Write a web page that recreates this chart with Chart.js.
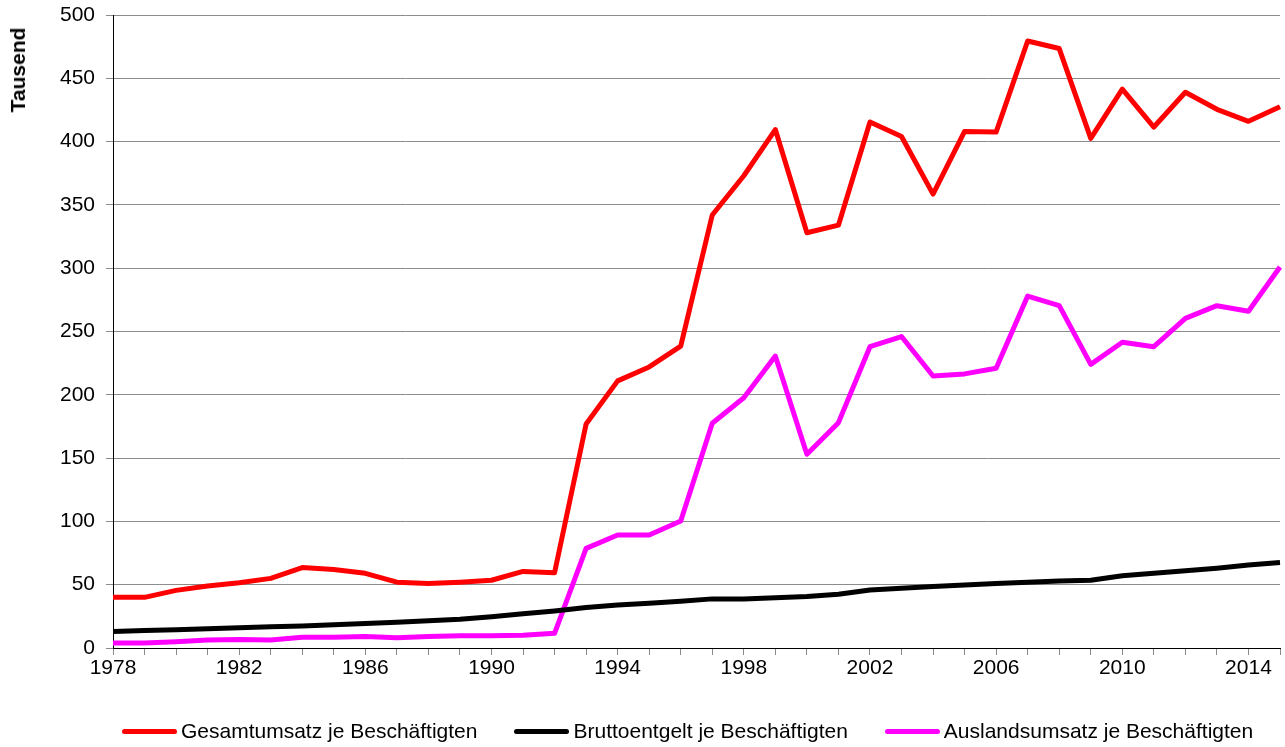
<!DOCTYPE html>
<html lang="de">
<head>
<meta charset="utf-8">
<title>Umsatz und Entgelt je Beschäftigten</title>
<script src="https://cdn.jsdelivr.net/npm/chart.js@4.4.1/dist/chart.umd.min.js"></script>
<style>
  html, body { margin: 0; padding: 0; background: #fff; }
  .wrap {
    position: relative;
    width: 1285px;
    height: 747px;
    font-family: "Liberation Sans", Arial, sans-serif;
    color: #000;
  }
  .wrap canvas { position: absolute; left: 0; top: 0; }
  .y-title {
    position: absolute;
    left: 18px;
    top: 70px;
    transform: translate(-50%, -50%) rotate(-90deg);
    font-weight: bold;
    font-size: 21px;
    white-space: nowrap;
  }
  .legend {
    position: absolute;
    left: 122px;
    top: 731px;
    transform: translateY(-50%);
    display: flex;
    align-items: center;
    font-size: 21px;
    white-space: nowrap;
  }
  .legend .item { display: flex; align-items: center; margin-right: 37px; }
  .legend .item:last-child { margin-right: 0; }
  .legend .swatch {
    display: inline-block;
    width: 55px;
    height: 5px;
    border-radius: 3px;
    margin-right: 4px;
  }
</style>
</head>
<body>
<div class="wrap">
  <canvas id="chart" width="1285" height="747"></canvas>
  <div class="y-title">Tausend</div>
  <div class="legend" id="legend"></div>
</div>
<script>
  var years = ['1978', '1979', '1980', '1981', '1982', '1983', '1984', '1985', '1986', '1987',
    '1988', '1989', '1990', '1991', '1992', '1993', '1994', '1995', '1996', '1997',
    '1998', '1999', '2000', '2001', '2002', '2003', '2004', '2005', '2006', '2007',
    '2008', '2009', '2010', '2011', '2012', '2013', '2014', '2015'];

  var gesamtumsatz = [40, 40, 45.5, 49, 51.5, 55, 63.5, 62, 59, 52,
    51, 52, 53.5, 60.5, 59.5, 177, 211, 222, 238.5, 342,
    373, 409.5, 328, 334, 415.5, 404, 358.5, 408, 407.5, 479.5,
    473.5, 402.5, 441.5, 411.5, 439, 425.5, 416, 427.5];

  var bruttoentgelt = [13, 13.8, 14.5, 15.2, 16, 16.7, 17.4, 18.3, 19.3, 20.4,
    21.5, 22.8, 24.7, 27, 29.3, 32, 34, 35.3, 37, 38.8,
    38.8, 39.7, 40.6, 42.4, 45.8, 47.2, 48.6, 49.8, 51, 52,
    53, 53.5, 57, 59, 61, 63, 65.5, 67.5];

  var auslandsumsatz = [4, 4, 5, 6.3, 6.8, 6.3, 8.4, 8.4, 9, 8,
    9, 9.7, 9.7, 10, 11.6, 78.7, 89.3, 89.3, 100.3, 177.5,
    197.7, 230.6, 153, 178, 238, 246, 214.8, 216.5, 221, 278,
    270.4, 224, 241.5, 238, 260.4, 270.4, 266, 301];

  var xTickLabels = ['1978', '1982', '1986', '1990', '1994', '1998', '2002', '2006', '2010', '2014'];

  var seriesNames = ['Gesamtumsatz je Beschäftigten', 'Bruttoentgelt je Beschäftigten', 'Auslandsumsatz je Beschäftigten'];
  var seriesColors = ['#ff0000', '#000000', '#ff00ff'];

  var tickFont = { family: '"Liberation Sans", Arial, sans-serif', size: 21 };
  var gridGray = '#8c8c8c';

  function lineDataset(index, values) {
    return {
      label: seriesNames[index],
      data: values,
      borderColor: seriesColors[index],
      backgroundColor: seriesColors[index],
      borderWidth: 5,
      borderJoinStyle: 'round',
      pointRadius: 0,
      pointHoverRadius: 0,
      tension: 0,
      fill: false
    };
  }

  new Chart(document.getElementById('chart'), {
    type: 'line',
    data: {
      labels: years,
      datasets: [
        lineDataset(0, gesamtumsatz),
        lineDataset(1, bruttoentgelt),
        lineDataset(2, auslandsumsatz)
      ]
    },
    options: {
      responsive: false,
      animation: false,
      layout: {
        autoPadding: false,
        padding: { top: 15, right: 5, bottom: 0, left: 0 }
      },
      plugins: {
        legend: { display: false },
        tooltip: { enabled: false }
      },
      scales: {
        x: {
          offset: false,
          grid: { drawOnChartArea: false, tickLength: 7, color: gridGray },
          border: { color: '#000', width: 1 },
          ticks: {
            autoSkip: false,
            maxRotation: 0,
            padding: 1,
            color: '#000',
            font: tickFont,
            callback: function (value) {
              var label = this.getLabelForValue(value);
              return xTickLabels.indexOf(label) >= 0 ? label : '';
            }
          },
          afterFit: function (scale) { scale.height = 99; }
        },
        y: {
          min: 0,
          max: 500,
          grid: { color: gridGray, tickLength: 7 },
          border: { color: '#000', width: 1 },
          ticks: { stepSize: 50, padding: 11, color: '#000', font: tickFont },
          afterFit: function (scale) {
            // fixed axis width; the top label may hang into the padding
            scale.width = 113;
            scale.paddingTop = 0;
            scale.paddingBottom = 0;
          }
        }
      }
    }
  });

  // legend below the plot
  var legend = document.getElementById('legend');
  seriesNames.forEach(function (name, i) {
    var item = document.createElement('span');
    item.className = 'item';
    var swatch = document.createElement('span');
    swatch.className = 'swatch';
    swatch.style.background = seriesColors[i];
    item.appendChild(swatch);
    item.appendChild(document.createTextNode(name));
    legend.appendChild(item);
  });
</script>
</body>
</html>
